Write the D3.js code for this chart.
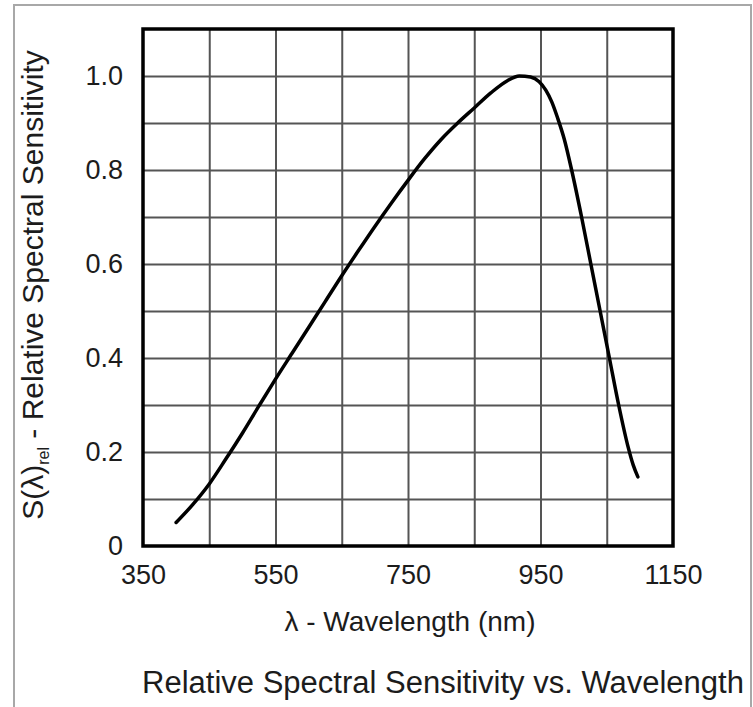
<!DOCTYPE html>
<html>
<head>
<meta charset="utf-8">
<script src="https://cdn.jsdelivr.net/npm/d3@7"></script>
<style>
    body { margin: 0; background: #fff; }
    text { font-family: "Liberation Sans", Arial, sans-serif; fill: #1c1c1c; }
</style>
</head>
<body>
<svg id="chart" width="753" height="707"></svg>
<script>
// ------------------ DATA ------------------

const wavelength = [400, 425, 450, 475, 500, 525, 550, 575, 600, 625, 650, 675, 700, 725, 750, 775, 800, 825, 850, 875, 900, 918, 935, 948, 958, 967, 976, 986, 997, 1012, 1026, 1040, 1054, 1068, 1082, 1090, 1097];
const sensitivity = [0.05, 0.088, 0.132, 0.185, 0.24, 0.298, 0.355, 0.41, 0.465, 0.52, 0.575, 0.628, 0.68, 0.73, 0.778, 0.824, 0.865, 0.90, 0.932, 0.964, 0.99, 1.0, 0.998, 0.988, 0.97, 0.945, 0.91, 0.865, 0.80, 0.70, 0.60, 0.50, 0.40, 0.30, 0.212, 0.172, 0.147];

const xTickLabels = [350, 550, 750, 950, 1150];
const xGridValues = [450, 550, 650, 750, 850, 950, 1050];
const yTickLabels = [0, 0.2, 0.4, 0.6, 0.8, 1.0];
const yGridValues = [0.1, 0.2, 0.3, 0.4, 0.5, 0.6, 0.7, 0.8, 0.9, 1.0];

// ------------------ LAYOUT ------------------

let svg = d3.select("#chart");
let plotLeft = 143, plotRight = 673, plotTop = 29, plotBottom = 546;

let x = d3.scaleLinear().domain([350, 1150]).range([plotLeft, plotRight]);
let y = d3.scaleLinear().domain([0, 1.1]).range([plotBottom, plotTop]);

// outer frame
svg.append("rect")
    .attr("x", 14).attr("y", 5)
    .attr("width", 737).attr("height", 720)
    .attr("fill", "none")
    .attr("stroke", "#a8a8a8")
    .attr("stroke-width", 2);

// ------------------ GRID ------------------

let xGrid = svg.append("g")
    .attr("transform", "translate(0," + plotBottom + ")")
    .call(d3.axisBottom(x).tickValues(xGridValues).tickSize(-(plotBottom - plotTop)).tickFormat(""));

let yGrid = svg.append("g")
    .attr("transform", "translate(" + plotLeft + ",0)")
    .call(d3.axisLeft(y).tickValues(yGridValues).tickSize(-(plotRight - plotLeft)).tickFormat(""));

[xGrid, yGrid].forEach(g => {
    g.select(".domain").remove();
    g.selectAll("line").attr("stroke", "#555").attr("stroke-width", 2);
});

// plot border
svg.append("rect")
    .attr("x", plotLeft).attr("y", plotTop)
    .attr("width", plotRight - plotLeft).attr("height", plotBottom - plotTop)
    .attr("fill", "none")
    .attr("stroke", "#000")
    .attr("stroke-width", 3.5);

// ------------------ AXES LABELS ------------------

let xAxis = svg.append("g")
    .attr("transform", "translate(0," + plotBottom + ")")
    .call(d3.axisBottom(x).tickValues(xTickLabels).tickSize(0).tickPadding(19).tickFormat(d3.format("d")));

let yAxis = svg.append("g")
    .attr("transform", "translate(" + plotLeft + ",0)")
    .call(d3.axisLeft(y).tickValues(yTickLabels).tickSize(0).tickPadding(20)
        .tickFormat(d => d === 0 ? "0" : d3.format(".1f")(d)));

[xAxis, yAxis].forEach(g => {
    g.select(".domain").remove();
    g.attr("font-family", null).attr("font-size", null);
    g.selectAll("text").attr("font-size", 27).style("fill", "#1c1c1c");
});

// ------------------ CURVE ------------------

let points = wavelength.map((w, i) => [w, sensitivity[i]]);

let line = d3.line()
    .x(d => x(d[0]))
    .y(d => y(d[1]))
    .curve(d3.curveMonotoneX);

svg.append("path")
    .datum(points)
    .attr("d", line)
    .attr("fill", "none")
    .attr("stroke", "#000")
    .attr("stroke-width", 3.5)
    .attr("stroke-linecap", "round");

// ------------------ TITLES ------------------

svg.append("text")
    .attr("x", 410).attr("y", 631)
    .attr("text-anchor", "middle")
    .attr("font-size", 28)
    .text("λ - Wavelength (nm)");

let yTitle = svg.append("text")
    .attr("transform", "translate(43,285) rotate(-90)")
    .attr("text-anchor", "middle")
    .attr("font-size", 30);
yTitle.append("tspan").text("S(λ)");
yTitle.append("tspan").attr("font-size", 16).attr("dy", 6).text("rel");
yTitle.append("tspan").attr("dy", -6).text(" - Relative Spectral Sensitivity");

svg.append("text")
    .attr("x", 443).attr("y", 693)
    .attr("text-anchor", "middle")
    .attr("font-size", 31)
    .text("Relative Spectral Sensitivity vs. Wavelength");
</script>
</body>
</html>
